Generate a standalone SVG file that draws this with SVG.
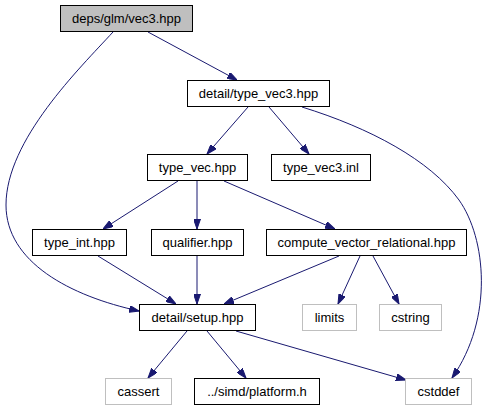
<svg xmlns="http://www.w3.org/2000/svg" width="491" height="411" viewBox="0 0 491 411">
<style>
.n rect{fill:#ffffff;stroke:#000000;stroke-width:1}
.n.root rect{fill:#bfbfbf}
.n.ext rect{stroke:#bfbfbf}
.n text{font-family:"Liberation Sans",Arial,sans-serif;font-size:13px;fill:#000000;text-anchor:middle}
.e path{fill:none;stroke:#191970;stroke-width:1;marker-end:url(#ah)}
</style>
<defs>
<marker id="ah" viewBox="0 0 10 7" refX="10" refY="3.5" markerWidth="10" markerHeight="7" markerUnits="userSpaceOnUse" orient="auto">
<path d="M0,0 L10,3.5 L0,7 z" fill="#191970" stroke="#191970" stroke-width="1"/>
</marker>
</defs>
<rect width="491" height="411" fill="#ffffff"/>
<g id="edges" class="e">
<path d="M148,32 L237,80"/>
<path d="M113,32 C80,68 6,140 6,205 C6,262 70,296 139,311"/>
<path d="M248,107 L207,154"/>
<path d="M269,107 L309,154"/>
<path d="M302,107 C370,128 430,160 459,200 C486,238 494,318 452,378"/>
<path d="M178,181 L103,229"/>
<path d="M197,181 L197,229"/>
<path d="M224,181 L335,229"/>
<path d="M98,256 L176,304"/>
<path d="M197,256 L197,304"/>
<path d="M339,256 L224,304"/>
<path d="M360,256 L338,304"/>
<path d="M373,256 L399,304"/>
<path d="M187,331 L148,378"/>
<path d="M207,331 L246,378"/>
<path d="M236,331 L406,380"/>
</g>
<g id="n_vec3" class="n root"><rect x="60.5" y="5.5" width="132" height="26"/><text x="126.5" y="22.5">deps/glm/vec3.hpp</text></g>
<g id="n_type_vec3" class="n"><rect x="187.5" y="80.5" width="142" height="26"/><text x="258.5" y="97.5">detail/type_vec3.hpp</text></g>
<g id="n_type_vec" class="n"><rect x="147.5" y="154.5" width="100" height="26"/><text x="197.5" y="171.5">type_vec.hpp</text></g>
<g id="n_type_vec3_inl" class="n"><rect x="271.5" y="154.5" width="99" height="26"/><text x="321" y="171.5">type_vec3.inl</text></g>
<g id="n_type_int" class="n"><rect x="32.5" y="229.5" width="94" height="26"/><text x="79.5" y="246.5">type_int.hpp</text></g>
<g id="n_qualifier" class="n"><rect x="151.5" y="229.5" width="92" height="26"/><text x="197.5" y="246.5">qualifier.hpp</text></g>
<g id="n_compute" class="n"><rect x="266.5" y="229.5" width="200" height="26"/><text x="366.5" y="246.5">compute_vector_relational.hpp</text></g>
<g id="n_setup" class="n"><rect x="139.5" y="304.5" width="116" height="26"/><text x="197.5" y="321.5">detail/setup.hpp</text></g>
<g id="n_limits" class="n ext"><rect x="302.5" y="304.5" width="54" height="26"/><text x="329.5" y="321.5">limits</text></g>
<g id="n_cstring" class="n ext"><rect x="379.5" y="304.5" width="62" height="26"/><text x="410.5" y="321.5">cstring</text></g>
<g id="n_cassert" class="n ext"><rect x="105.5" y="378.5" width="66" height="26"/><text x="138.5" y="395.5">cassert</text></g>
<g id="n_platform" class="n"><rect x="194.5" y="378.5" width="125" height="26"/><text x="257" y="395.5">../simd/platform.h</text></g>
<g id="n_cstddef" class="n ext"><rect x="405.5" y="378.5" width="66" height="26"/><text x="438.5" y="395.5">cstddef</text></g>
</svg>
